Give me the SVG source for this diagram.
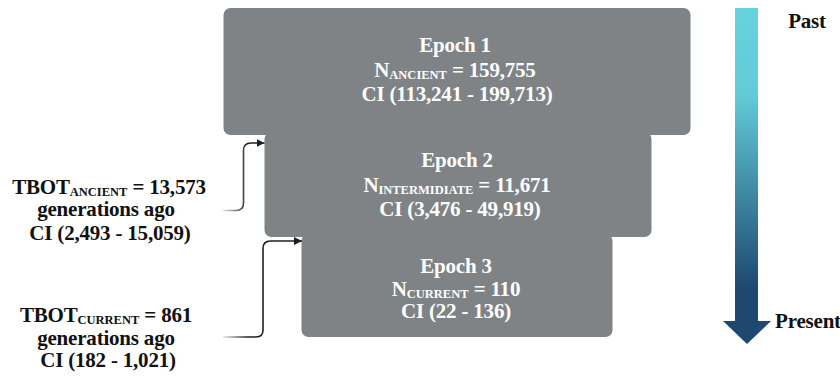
<svg xmlns="http://www.w3.org/2000/svg" width="840" height="378" viewBox="0 0 840 378">
  <defs>
    <style>
      .box { fill: #7f8386; }
      .t { font-family: "Liberation Serif", "Times New Roman", serif; font-weight: bold; font-size: 21px; letter-spacing: -0.2px; text-anchor: middle; }
      .w { fill: #ffffff; }
      .k { fill: #111111; }
      .sub { font-size: 12.5px; letter-spacing: 0; }
      .conn { fill: none; stroke: url(#connFade); stroke-width: 1.6; marker-end: url(#tip); }
    </style>
    <linearGradient id="connFade" gradientUnits="userSpaceOnUse" x1="223" y1="0" x2="248" y2="0">
      <stop offset="0" stop-color="#e4e4e4"/>
      <stop offset="1" stop-color="#1e1e1e"/>
    </linearGradient>
    <linearGradient id="timeFill" gradientUnits="userSpaceOnUse" x1="0" y1="8" x2="0" y2="344">
      <stop offset="0" stop-color="#66d3df"/>
      <stop offset="0.26" stop-color="#61cbd8"/>
      <stop offset="0.55" stop-color="#3f8aa3"/>
      <stop offset="0.83" stop-color="#1f4870"/>
      <stop offset="1" stop-color="#1f4870"/>
    </linearGradient>
    <marker id="tip" markerUnits="userSpaceOnUse" markerWidth="10" markerHeight="10" refX="8" refY="4" orient="auto">
      <path d="M0,0 L8,4 L0,8 Z" fill="#1e1e1e"/>
    </marker>
  </defs>

  <!-- epochs, stacked from oldest (top) to most recent (bottom) -->
  <g id="epoch3">
    <rect class="box" x="301.5" y="234" width="311" height="103" rx="7"/>
    <text class="t w" x="456" y="273">Epoch 3</text>
    <text class="t w" x="456" y="296">N<tspan class="sub" dy="1.5">CURRENT</tspan><tspan dy="-1.5"> = 110</tspan></text>
    <text class="t w" x="456" y="318">CI (22 - 136)</text>
  </g>

  <g id="epoch2">
    <rect class="box" x="264.5" y="132" width="387" height="105" rx="7"/>
    <text class="t w" x="457" y="167">Epoch 2</text>
    <text class="t w" x="457" y="192">N<tspan class="sub" dy="1.5">INTERMIDIATE</tspan><tspan dy="-1.5"> = 11,671</tspan></text>
    <text class="t w" x="460" y="216">CI (3,476 - 49,919)</text>
  </g>

  <g id="epoch1">
    <rect class="box" x="223.5" y="8" width="467" height="127" rx="7"/>
    <text class="t w" x="455" y="52">Epoch 1</text>
    <text class="t w" x="455" y="77">N<tspan class="sub" dy="1.5">ANCIENT</tspan><tspan dy="-1.5"> = 159,755</tspan></text>
    <text class="t w" x="457" y="101">CI (113,241 - 199,713)</text>
  </g>

  <!-- bottleneck timing labels -->
  <g id="tbotAncient">
    <text class="t k" x="109" y="194">TBOT<tspan class="sub" dy="1.5">ANCIENT</tspan><tspan dy="-1.5"> = 13,573</tspan></text>
    <text class="t k" x="106" y="216">generations ago</text>
    <text class="t k" x="110" y="240">CI (2,493 - 15,059)</text>
  </g>

  <g id="tbotCurrent">
    <text class="t k" x="106" y="322">TBOT<tspan class="sub" dy="1.5">CURRENT</tspan><tspan dy="-1.5"> = 861</tspan></text>
    <text class="t k" x="106" y="345">generations ago</text>
    <text class="t k" x="108" y="367">CI (182 - 1,021)</text>
  </g>

  <!-- connectors from labels to epoch boundaries -->
  <g id="connectors">
    <path class="conn" d="M223,210.5 H236 Q243.5,210.5 243.5,203 V150.5 Q243.5,143 251,143 H264.5"/>
    <path class="conn" d="M223,337 H256 Q263,337 263,330 V248.5 Q263,241 270.5,241 H302"/>
  </g>

  <!-- time axis -->
  <g id="timeAxis">
    <rect x="735" y="8" width="23" height="314" fill="url(#timeFill)"/>
    <polygon points="723,321 771,321 747,344" fill="#1f4870"/>
    <text class="t k" x="807" y="28">Past</text>
    <text class="t k" x="808" y="328">Present</text>
  </g>
</svg>
